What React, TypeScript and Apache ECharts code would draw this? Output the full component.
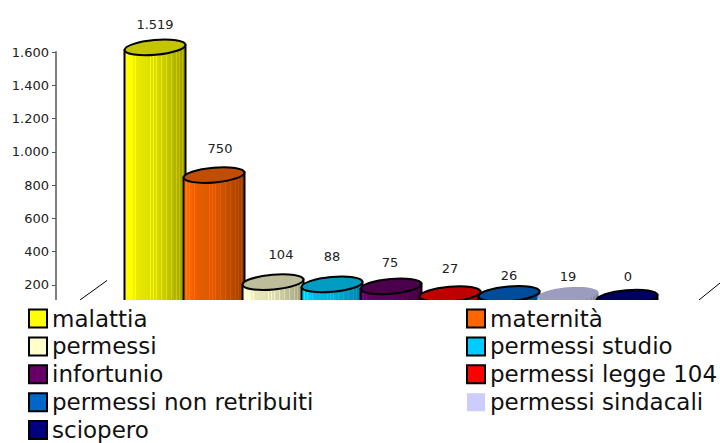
import React, { useEffect, useRef } from "react";
import * as echarts from "echarts";

const categories = ["malattia", "maternità", "permessi", "permessi studio", "infortunio", "permessi legge 104", "permessi non retribuiti", "permessi sindacali", "sciopero"];
const values = [1519, 750, 104, 88, 75, 27, 26, 19, 0];
const valueLabels = ["1.519", "750", "104", "88", "75", "27", "26", "19", "0"];
const baseColors = ["#FFFF00", "#FF6600", "#FFFFCC", "#00CCFF", "#660066", "#FF0000", "#0066CC", "#CCCCFF", "#000080"];
const topColors = ["#C4C400", "#C04E00", "#BDBD9B", "#009CC2", "#4A004A", "#BE0000", "#004C9A", "#9C9CBF", "#000060"];
const tickValues = [0, 200, 400, 600, 800, 1000, 1200, 1400, 1600];
const leftLegend = [0, 2, 4, 6, 8];
const rightLegend = [1, 3, 5, 7];
const labelShift: [number, number][] = [[0, -23], [6, -27], [8, -28], [0, -28], [-1, -24], [0, -26], [0, -18], [0, -18], [1, -21]];

const FONT = "'DejaVu Sans', sans-serif";
const stripes = [0.05, 0.1, 0.18, 0.42, 0.47, 0.53, 0.61, 0.69, 0.77, 0.85, 0.9, 0.95];
const curve = (t: number) => (t < 0.12 ? 1 : t < 0.2 ? 1 - (t - 0.12) * 1.25 : t < 0.5 ? 0.9 - (t - 0.2) * 0.1 : 0.87 - (t - 0.5) * 0.5);

function shade(hex: string, f: number) {
  const n = parseInt(hex.slice(1), 16);
  const c = [(n >> 16) & 255, (n >> 8) & 255, n & 255].map((v) => Math.min(255, Math.round(v * f + (f > 1 ? (f - 1) * 120 : 0))));
  return `rgb(${c[0]},${c[1]},${c[2]})`;
}

function bodyStops(hex: string) {
  const stops: { offset: number; color: string }[] = [{ offset: 0, color: shade(hex, curve(0)) }];
  stripes.forEach((s) => {
    const w = 0.009;
    stops.push({ offset: s - w, color: shade(hex, curve(s - w)) });
    stops.push({ offset: s - w, color: shade(hex, curve(s) + 0.1) });
    stops.push({ offset: s + w, color: shade(hex, curve(s) + 0.1) });
    stops.push({ offset: s + w, color: shade(hex, curve(s + w)) });
  });
  stops.push({ offset: 1, color: shade(hex, curve(1)) });
  return stops;
}

function fmt(v: number) {
  return v >= 1000 ? `${Math.floor(v / 1000)}.${String(v % 1000).padStart(3, "0")}` : String(v);
}

export default function App() {
  const ref = useRef<HTMLDivElement>(null);
  useEffect(() => {
    const chart = echarts.init(ref.current!, undefined, { renderer: "svg" });
    const rx = 30.5, ry = 7.4, tilt = 0.088;
    const series = categories.map((name, i) => ({
      type: "custom",
      name,
      coordinateSystem: "cartesian2d",
      encode: { x: 0, y: 1 },
      data: [[i, values[i]]],
      z: 2,
      renderItem: (_p: any, api: any) => {
        const pt = api.coord([api.value(0), api.value(1)]);
        const cx = pt[0];
        const cy = pt[1] - 18 - 0.3 * i;
        const floor = api.coord([api.value(0), 0])[1];
        const dyEnd = rx * Math.sin(tilt);
        const bordered = i !== 7;
        const stroke = bordered ? "#000" : "none";
        const fill = new echarts.graphic.LinearGradient(0, 0, 1, 0, bodyStops(baseColors[i]));
        return {
          type: "group",
          children: [
            {
              type: "polygon",
              shape: { points: [[cx - rx, cy + dyEnd], [cx + rx, cy - dyEnd], [cx + rx, floor], [cx - rx, floor]] },
              style: { fill, stroke, lineWidth: 2 },
            },
            {
              type: "ellipse",
              x: cx,
              y: cy,
              rotation: tilt,
              shape: { cx: 0, cy: 0, rx, ry },
              style: { fill: topColors[i], stroke, lineWidth: 2 },
            },
            {
              type: "text",
              x: cx + labelShift[i][0],
              y: cy + labelShift[i][1],
              style: { text: valueLabels[i], font: `13px ${FONT}`, fill: "#222", align: "center", verticalAlign: "middle" },
            },
          ],
        };
      },
    }));
    const legendItem = (i: number) => ({
      name: categories[i],
      icon: "rect",
      itemStyle: { color: baseColors[i], borderColor: i === 7 ? "transparent" : "#000", borderWidth: i === 7 ? 0 : 2 },
    });
    const legendBase = {
      orient: "vertical" as const,
      top: 307,
      height: 200,
      itemWidth: 18,
      itemHeight: 18,
      itemGap: 4.9,
      selectedMode: false,
      padding: 0,
      textStyle: { fontFamily: FONT, fontSize: 23, color: "#111" },
      z: 5,
    };
    chart.setOption({
      animation: false,
      backgroundColor: "#fff",
      grid: { left: 125.5, top: 52, width: 531, height: 266 },
      xAxis: { type: "category", data: categories, show: false },
      yAxis: {
        type: "value",
        min: tickValues[0],
        max: tickValues[tickValues.length - 1],
        interval: 200,
        offset: 69.5,
        splitLine: { show: false },
        axisLine: { show: true, lineStyle: { color: "#808080", width: 2 } },
        axisTick: { show: true, length: 4, lineStyle: { color: "#555" } },
        axisLabel: { margin: 7, fontFamily: FONT, fontSize: 13, color: "#222", showMinLabel: false, formatter: (v: number) => fmt(v) },
      },
      legend: [
        { ...legendBase, left: 28, data: leftLegend.map(legendItem) },
        { ...legendBase, left: 466, data: rightLegend.map(legendItem) },
      ],
      graphic: [
        { type: "line", z: 1, shape: { x1: 80, y1: 300, x2: 107, y2: 280.5 }, style: { stroke: "#000", lineWidth: 1 } },
        { type: "line", z: 1, shape: { x1: 699, y1: 300, x2: 720, y2: 283 }, style: { stroke: "#000", lineWidth: 1 } },
        { type: "rect", z: 3, shape: { x: 0, y: 300, width: 720, height: 143 }, style: { fill: "#fff" } },
      ],
      series,
    });
    return () => chart.dispose();
  }, []);
  return <div ref={ref} style={{ position: "fixed", left: 0, top: 0, width: 720, height: 443 }} />;
}
